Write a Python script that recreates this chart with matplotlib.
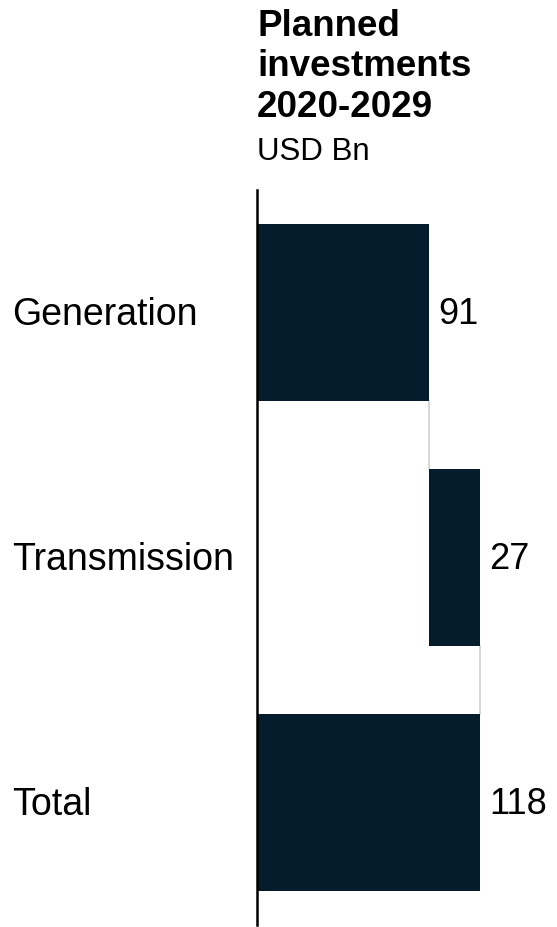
import matplotlib.pyplot as plt
import matplotlib.transforms as mtransforms

categories = ['Generation', 'Transmission', 'Total']
values = [91, 27, 118]
starts = [0, 91, 0]
value_labels = ['91', '27', '118']

bar_color = '#051C2C'
plt.rcParams['font.family'] = ['Liberation Sans', 'DejaVu Sans']

W, H = 557, 927
fig = plt.figure(figsize=(W / 100, H / 100), dpi=100)
# axes placed in pixel terms: left edge is the vertical axis line
ax = fig.add_axes([257 / W, 2 / H, 300 / W, 735 / H])
ax.set_xlim(0, 300 / 1.89)
ax.set_ylim(2.5, -0.5)

ypos = list(range(len(categories)))
ax.barh(ypos, values, left=starts, height=0.72, color=bar_color, zorder=2)

# connector lines between bars
for i in range(len(values) - 1):
    x = starts[i] + values[i]
    ax.plot([x, x], [ypos[i] + 0.36, ypos[i + 1] - 0.36], color='#d0d0d0', lw=1.2, zorder=1)

for y, s, v, lab in zip(ypos, starts, values, value_labels):
    ax.text(s + v + 5, y + 0.01, lab, va='center', ha='left', fontsize=26, color='black')

trans = mtransforms.blended_transform_factory(fig.transFigure, ax.transData)
for y, c in zip(ypos, categories):
    ax.text(12 / W, y + 0.01, c, transform=trans, va='center', ha='left', fontsize=27, color='black')

for sp in ['top', 'right', 'bottom']:
    ax.spines[sp].set_visible(False)
ax.spines['left'].set_linewidth(1.8)
ax.spines['left'].set_color('black')
ax.set_xticks([])
ax.set_yticks([])

fig.text(257 / W, 1 - 9 / H, 'Planned\ninvestments\n2020-2029', fontsize=26.5, fontweight='bold',
         va='top', ha='left', linespacing=1.2)
fig.text(257 / W, 1 - 160 / H, 'USD Bn', fontsize=22.5, va='baseline', ha='left')

fig.savefig('out.png', dpi=100)
